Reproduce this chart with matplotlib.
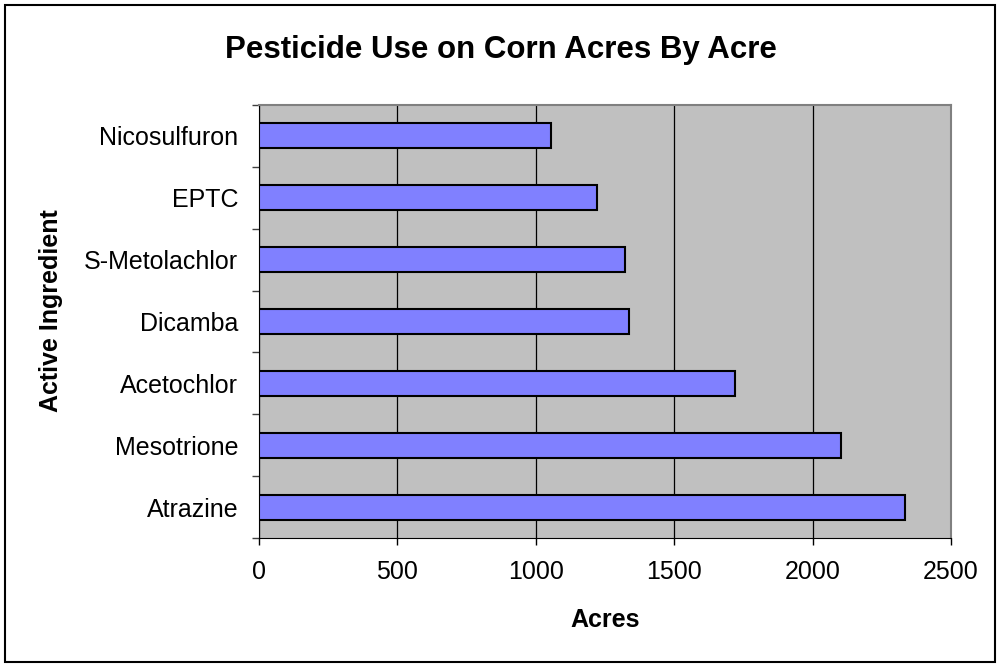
import matplotlib.pyplot as plt
from matplotlib.patches import Rectangle

# acres treated per active ingredient, bottom to top
ingredients = ["Atrazine", "Mesotrione", "Acetochlor", "Dicamba",
               "S-Metolachlor", "EPTC", "Nicosulfuron"]
acres = [2333, 2102, 1720, 1337, 1324, 1221, 1055]
x_ticks = [0, 500, 1000, 1500, 2000, 2500]

plt.rcParams['font.family'] = ['Liberation Sans', 'DejaVu Sans']

fig = plt.figure(figsize=(10.01, 6.67), dpi=100)
fig.patch.set_facecolor('white')

# outer chart border
fig.patches.append(Rectangle((0.005, 0.007), 0.989, 0.986, transform=fig.transFigure,
                             fill=False, edgecolor='black', linewidth=1.5))

ax = fig.add_axes([0.2587, 0.193, 0.6913, 0.65])
ax.set_facecolor('#C0C0C0')

pos = list(range(len(ingredients)))
ax.barh(pos, acres, height=0.4, color='#8080FF', edgecolor='black', linewidth=1.5, zorder=3)

ax.set_xlim(0, 2500)
ax.set_ylim(-0.5, len(ingredients) - 0.5)
ax.set_xticks(x_ticks)
ax.set_xticklabels([str(t) for t in x_ticks], fontsize=18)
ax.xaxis.grid(True, color='black', linewidth=0.9, zorder=1)

# labels centred on bars, tick marks between categories
ax.set_yticks(pos)
ax.set_yticklabels(ingredients, fontsize=18)
ax.tick_params(axis='y', length=0, pad=15)
ax.set_yticks([p - 0.5 for p in pos] + [len(pos) - 0.5], minor=True)
ax.tick_params(axis='y', which='minor', length=5, width=1, color='#404040')
ax.tick_params(axis='x', length=5, width=1, pad=11, color='black')

for side in ['top', 'right']:
    ax.spines[side].set_color('#808080')
    ax.spines[side].set_linewidth(1.5)
ax.spines['left'].set_color('black')
ax.spines['bottom'].set_color('black')

fig.text(0.605, 0.07, "Acres", ha='center', va='center', fontsize=18, fontweight='bold')
fig.text(0.051, 0.535, "Active Ingredient", ha='center', va='center', rotation=90,
         fontsize=18, fontweight='bold')

fig.text(0.5, 0.925, "Pesticide Use on Corn Acres By Acre", ha='center', va='center',
         fontsize=22.5, fontweight='bold')

fig.savefig("out.png", dpi=100)
